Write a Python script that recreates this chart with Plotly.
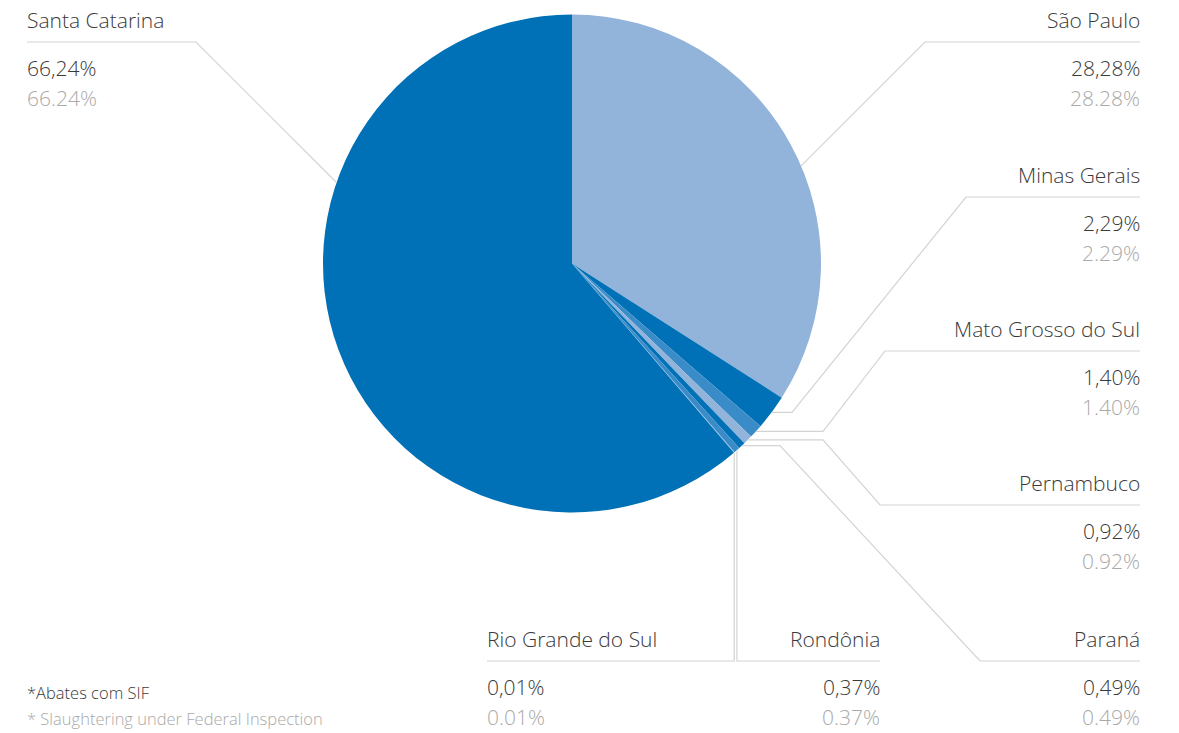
import math
import plotly.graph_objects as go

# ---------------- data ----------------
states = ["São Paulo", "Minas Gerais", "Mato Grosso do Sul", "Pernambuco",
          "Paraná", "Rondônia", "Rio Grande do Sul", "Santa Catarina"]
# printed shares (%)
shares = [28.28, 2.29, 1.40, 0.92, 0.49, 0.37, 0.01, 66.24]
# slice sizes as drawn in the picture (%)
slice_values = [34.06, 2.27, 0.90, 0.60, 0.45, 0.40, 0.05, 61.27]
palette = ["#92b4db", "#0071b6", "#3a8cc8"]
colors = [palette[i % 3] for i in range(len(states))]
note_pt = "*Abates com SIF"
note_en = "* Slaughtering under Federal Inspection"

# ---------------- layout constants (pixels) ----------------
W, H = 1179, 733
CX, CY, R = 572, 263.5, 249
LINE = "#d3d3d3"
DARK = "#3a3a3a"
GREY = "#a9a9a9"
FONT = "Open Sans"
LX, RX = 25, 1142

def px(x):
    return x / W

def py(y):
    return 1 - y / H

fig = go.Figure(go.Pie(
    labels=states, values=slice_values, sort=False, direction="clockwise",
    rotation=0, marker=dict(colors=colors, line=dict(width=0)),
    textinfo="none", hoverinfo="label", showlegend=False,
    domain=dict(x=[px(CX - R), px(CX + R)], y=[py(CY + R), py(CY - R)]),
))

# cumulative fractions -> mid angles
cum = []
s = 0
total = sum(slice_values)
for v in slice_values:
    cum.append((s + v / 2) / total)
    s += v

def edge_point(frac):
    th = 2 * math.pi * frac
    return CX + R * math.sin(th), CY - R * math.cos(th)

def hit_circle(x0, y0, dx, dy):
    fx, fy = x0 - CX, y0 - CY
    a = dx * dx + dy * dy
    b = 2 * (fx * dx + fy * dy)
    c = fx * fx + fy * fy - R * R
    t = (-b - math.sqrt(b * b - 4 * a * c)) / (2 * a)
    return x0 + t * dx, y0 + t * dy

# label placement
place = {
    "Santa Catarina": dict(tx=LX, al="left", ny=20, ux=(27, 196)),
    "São Paulo": dict(tx=RX, al="right", ny=20, ux=(925, 1140)),
    "Minas Gerais": dict(tx=RX, al="right", ny=175, ux=(966, 1140), elbow=792),
    "Mato Grosso do Sul": dict(tx=RX, al="right", ny=329, ux=(885, 1140), elbow=823),
    "Pernambuco": dict(tx=RX, al="right", ny=483, ux=(880, 1140), elbow=823),
    "Paraná": dict(tx=RX, al="right", ny=639, ux=(980, 1140), elbow=780),
    "Rondônia": dict(tx=882, al="right", ny=639, ux=(None, 880)),
    "Rio Grande do Sul": dict(tx=485, al="left", ny=639, ux=(487, None)),
}

shapes = []
annotations = []

def seg(pts):
    path = "M " + " L ".join(f"{px(x):.5f},{py(y):.5f}" for x, y in pts)
    shapes.append(dict(type="path", path=path, xref="paper", yref="paper",
                       line=dict(color=LINE, width=1.2)))

for i, name in enumerate(states):
    p = place[name]
    uy = p["ny"] + 22
    ax, ay = edge_point(cum[i])
    ux0, ux1 = p["ux"]
    if name == "Santa Catarina":
        hx, hy = hit_circle(ux1, uy, 1, 1)
        seg([(ux0, uy), (ux1, uy), (hx, hy)])
    elif name == "São Paulo":
        hx, hy = hit_circle(ux0, uy, -1, 1)
        seg([(ux1, uy), (ux0, uy), (hx, hy)])
    elif name == "Rondônia":
        seg([(ux1, uy), (ax, uy), (ax, ay)])
    elif name == "Rio Grande do Sul":
        seg([(ux0, uy), (ax, uy), (ax, ay)])
    else:
        seg([(ux1, uy), (ux0, uy), (p["elbow"], ay), (ax, ay)])

    pt = f"{shares[i]:.2f}".replace(".", ",") + "%"
    en = f"{shares[i]:.2f}%"
    for txt, yy, col in ((name, p["ny"], DARK), (pt, p["ny"] + 48, DARK), (en, p["ny"] + 78, GREY)):
        annotations.append(dict(text=txt, x=px(p["tx"]), y=py(yy), xref="paper", yref="paper",
                                xanchor=p["al"], yanchor="middle", showarrow=False,
                                font=dict(family=FONT, size=21, color=col, weight=300)))

annotations.append(dict(text=note_pt, x=px(LX), y=py(692), xref="paper", yref="paper",
                        xanchor="left", yanchor="middle", showarrow=False,
                        font=dict(family=FONT, size=16.5, color=DARK, weight=300)))
annotations.append(dict(text=note_en, x=px(LX), y=py(718), xref="paper", yref="paper",
                        xanchor="left", yanchor="middle", showarrow=False,
                        font=dict(family=FONT, size=16.5, color=GREY, weight=300)))

fig.update_layout(width=W, height=H, autosize=False,
                  margin=dict(l=0, r=0, t=0, b=0),
                  paper_bgcolor="white", plot_bgcolor="white",
                  shapes=shapes, annotations=annotations)

fig.write_html("out.html", config={"displayModeBar": False},
               post_script="document.body.style.margin='0';document.body.style.overflow='hidden';")
